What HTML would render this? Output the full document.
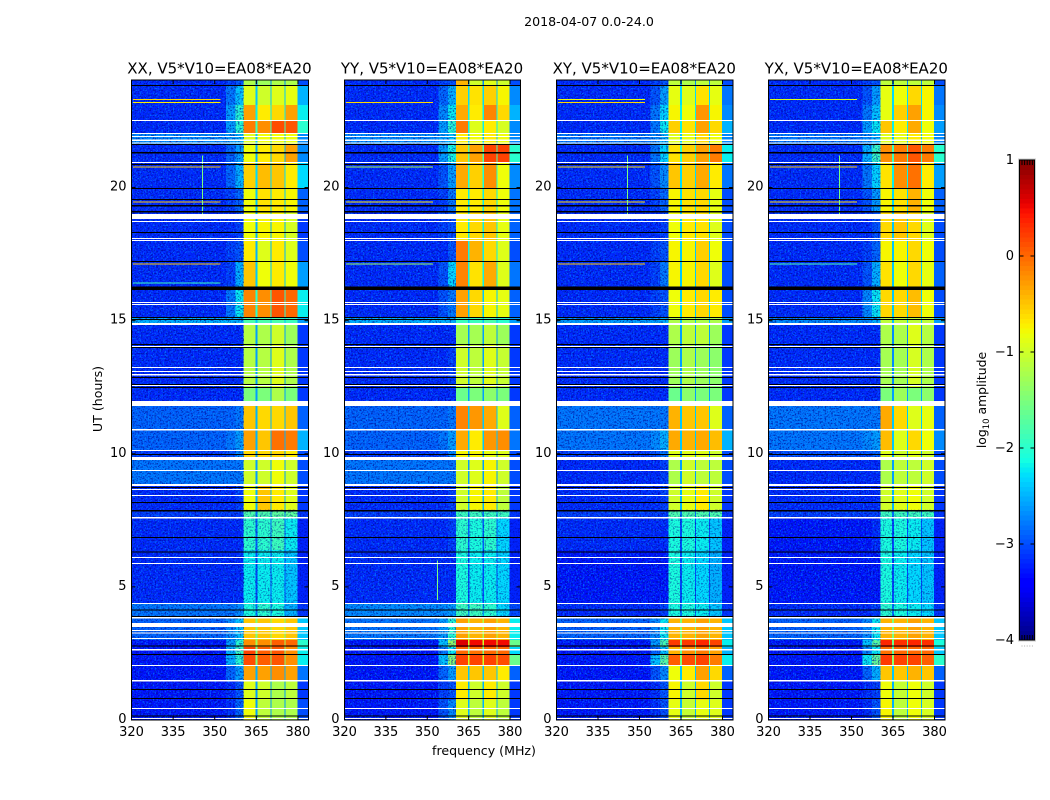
<!DOCTYPE html>
<html lang="en">
<head>
<meta charset="utf-8">
<title>2018-04-07 0.0-24.0</title>
<style>
html,body{margin:0;padding:0;background:#fff;}
svg{display:block;font-family:"DejaVu Sans","Liberation Sans",sans-serif;fill:#000;}
</style>
</head>
<body>
<svg id="figure" xmlns="http://www.w3.org/2000/svg" width="1050" height="800" viewBox="0 0 1050 800">
  <defs>
    <filter id="speckle-light" x="0" y="0" width="1" height="1" color-interpolation-filters="sRGB">
      <feTurbulence type="fractalNoise" baseFrequency="0.6" numOctaves="2" seed="4"/>
      <feColorMatrix type="matrix" values="0 0 0 0 0  0 0 0 0 0.65  0 0 0 0 1  5 0 0 0 -2.5"/>
    </filter>
    <filter id="speckle-dark" x="0" y="0" width="1" height="1" color-interpolation-filters="sRGB">
      <feTurbulence type="fractalNoise" baseFrequency="0.6" numOctaves="2" seed="11"/>
      <feColorMatrix type="matrix" values="0 0 0 0 0  0 0 0 0 0  0 0 0 0 0.55  5 0 0 0 -2.5"/>
    </filter>
  </defs>
  <rect x="0" y="0" width="1050" height="800" fill="#fff"/>
  <text x="589" y="26" font-size="12.6" text-anchor="middle">2018-04-07 0.0-24.0</text>
  <text transform="translate(102,399) rotate(-90)" font-size="12.6" text-anchor="middle">UT (hours)</text>
  <text x="484" y="755" font-size="12.6" text-anchor="middle">frequency (MHz)</text>
  <text transform="translate(986,400) rotate(-90)" font-size="12.4" text-anchor="middle">log<tspan font-size="8.5" dy="3">10</tspan><tspan dy="-3"> amplitude</tspan></text>
  <g id="panels"></g>
  <g id="colorbar"></g>
</svg>
<script>
const panelTitles = ["XX, V5*V10=EA08*EA20", "YY, V5*V10=EA08*EA20", "XY, V5*V10=EA08*EA20", "YX, V5*V10=EA08*EA20"];
const xTicks = [320, 335, 350, 365, 380];
const yTicks = [0, 5, 10, 15, 20];
const colorTicks = [1, 0, -1, -2, -3, -4];

const timeEdges = [0, 0.75, 1.5, 2.07, 2.44, 2.74, 3.0, 3.87, 4.39, 6.38, 7.62, 7.89, 8.86, 9.77, 10.14, 10.93, 11.79, 12.51, 14.08, 14.84, 15.14, 16.26, 17.2, 18.03, 19.08, 19.98, 20.96, 21.63, 22.05, 22.54, 23.1, 23.81, 24.04];
const freqEdges = [320, 354, 357.5, 360.4, 364.7, 365.4, 370.1, 370.5, 375.1, 375.5, 379.8, 383.8];
const columnLevelIndex = [0, 1, 2, 3, 8, 4, 8, 5, 8, 6, 7];

const xxLevels = [
[-3.3,-3.2,-2.9,-0.8,-1.1,-1.2,-1.2,-3.0,-2.6],
[-3.3,-3.2,-3.0,-0.9,-1.0,-1.2,-1.1,-3.1,-2.6],
[-3.3,-2.9,-2.6,-0.3,-0.3,-0.2,-0.3,-2.8,-2.5],
[-3.3,-2.5,-2.0,0.15,0.05,0.1,-0.2,-2.2,-1.5],
[-3.3,-2.5,-1.9,0.2,0.05,0.1,-0.2,-2.2,-1.5],
[-3.3,-2.6,-2.0,-0.2,-0.2,0.05,0.0,-2.0,-1.3],
[-2.9,-2.7,-2.4,-0.5,-0.5,-0.6,-0.5,-2.4,-1.5],
[-2.8,-2.8,-2.7,-2.1,-2.0,-2.1,-2.5,-3.1,-2.8],
[-3.2,-3.2,-3.2,-2.2,-2.2,-2.2,-2.4,-3.2,-3.0],
[-3.2,-3.2,-3.2,-2.0,-2.0,-1.9,-2.2,-3.2,-2.9],
[-3.1,-3.1,-3.1,-1.8,-1.8,-1.7,-1.7,-3.1,-2.8],
[-3.2,-3.2,-3.1,-0.8,-0.5,-0.7,-0.9,-3.1,-2.5],
[-2.8,-2.8,-2.8,-1.0,-1.0,-0.8,-1.0,-3.0,-2.6],
[-3.1,-3.0,-2.7,-0.6,-0.6,-0.6,-0.7,-3.0,-2.6],
[-2.9,-2.8,-2.6,-0.3,-0.5,-0.05,-0.1,-2.5,-2.5],
[-2.9,-2.9,-2.8,-0.5,-0.6,-0.6,-0.5,-2.9,-2.5],
[-3.2,-3.2,-3.2,-1.5,-1.5,-1.2,-1.5,-3.1,-2.6],
[-3.2,-3.2,-3.2,-1.15,-1.15,-0.9,-1.2,-3.1,-2.6],
[-3.2,-3.2,-3.2,-1.15,-1.2,-1.0,-1.3,-3.1,-2.6],
[-2.5,-2.5,-2.5,-1.8,-1.8,-1.8,-1.9,-2.6,-2.4],
[-3.2,-2.8,-2.2,-0.15,-0.2,0.1,0.0,-2.2,-2.0],
[-3.2,-3.1,-2.5,-0.5,-0.8,-0.7,-0.8,-2.6,-2.4],
[-3.2,-3.1,-3.0,-0.7,-0.9,-0.7,-0.9,-3.0,-2.5],
[-3.2,-3.2,-3.1,-0.8,-0.75,-0.75,-0.95,-3.1,-2.5],
[-3.2,-3.1,-2.9,-0.8,-0.65,-0.7,-0.75,-2.9,-2.4],
[-3.2,-2.9,-2.5,-0.55,-0.45,-0.5,-0.7,-2.3,-2.3],
[-3.2,-2.9,-2.6,-0.8,-0.7,-0.6,-0.3,-2.7,-2.5],
[-2.7,-2.6,-2.5,-0.9,-0.8,-0.8,-0.8,-2.7,-2.4],
[-3.2,-2.6,-2.0,-0.1,-0.2,0.15,0.1,-2.0,-1.9],
[-3.2,-2.6,-2.0,-0.3,-0.7,-0.6,-0.3,-2.2,-2.2],
[-3.2,-2.8,-2.4,-0.9,-1.0,-0.9,-0.85,-2.5,-2.4],
[-3.2,-3.1,-3.0,-1.2,-1.3,-1.2,-1.2,-3.0,-2.7]
];
const yyLevels = [
[-3.3,-3.0,-2.7,-0.9,-1.1,-0.9,-1.1,-3.1,-2.5],
[-3.3,-3.1,-3.0,-0.7,-1.0,-0.7,-1.0,-3.1,-2.5],
[-3.3,-2.9,-2.6,-0.5,-0.5,-0.5,-0.7,-2.9,-2.4],
[-3.3,-2.4,-1.4,0.2,0.2,0.2,0.15,-1.6,-1.0],
[-3.3,-2.8,-2.2,0.0,-0.05,0.0,0.0,-2.3,-1.5],
[-3.3,-2.4,-1.3,0.6,0.5,0.5,0.5,-1.6,-1.0],
[-2.8,-2.6,-2.0,-0.3,-0.4,-0.3,-0.4,-2.2,-1.2],
[-2.7,-2.7,-2.6,-1.9,-1.9,-2.0,-2.3,-3.0,-2.6],
[-3.2,-3.2,-3.2,-2.1,-2.2,-2.2,-2.3,-3.2,-3.0],
[-3.2,-3.2,-3.1,-2.0,-2.1,-2.0,-2.3,-3.2,-2.9],
[-3.1,-3.1,-3.1,-1.9,-1.9,-1.9,-1.9,-3.1,-2.8],
[-3.2,-3.2,-3.1,-1.0,-0.75,-0.7,-1.1,-3.1,-2.5],
[-2.8,-2.8,-2.8,-1.0,-0.9,-0.75,-1.0,-3.0,-2.6],
[-3.1,-3.0,-2.7,-0.75,-0.75,-0.85,-0.9,-3.0,-2.6],
[-2.9,-2.8,-2.6,-0.35,-0.7,-0.25,-0.2,-2.8,-2.4],
[-2.9,-2.9,-2.8,-0.15,-0.25,-0.35,-0.9,-2.9,-2.4],
[-3.2,-3.2,-3.2,-1.6,-1.5,-1.4,-1.5,-3.1,-2.6],
[-3.2,-3.2,-3.1,-1.0,-1.1,-0.9,-1.05,-3.1,-2.6],
[-3.2,-3.2,-3.2,-1.25,-1.25,-1.1,-1.3,-3.1,-2.6],
[-2.5,-2.5,-2.5,-1.9,-1.9,-1.8,-2.0,-2.6,-2.4],
[-3.2,-3.0,-2.8,-0.3,-0.6,-0.75,-0.85,-2.9,-2.4],
[-3.2,-3.0,-2.3,-0.15,-0.65,-0.35,-0.9,-2.8,-2.2],
[-3.2,-3.2,-3.0,-0.1,-0.4,-0.6,-0.9,-3.0,-2.2],
[-3.2,-3.1,-3.0,-0.7,-0.6,-0.5,-0.85,-2.9,-2.2],
[-3.2,-3.1,-2.8,-0.7,-0.7,-0.6,-0.8,-2.8,-2.2],
[-3.2,-3.0,-2.6,-0.35,-0.55,-0.2,-0.8,-2.7,-2.1],
[-3.2,-2.6,-2.1,-0.5,-0.3,0.2,0.2,-2.0,-1.8],
[-2.7,-2.6,-2.4,-0.7,-0.8,-0.7,-0.8,-2.7,-2.4],
[-3.2,-2.6,-2.0,-0.1,-0.9,-0.7,-0.95,-2.7,-2.2],
[-3.2,-2.7,-2.2,-0.35,-0.7,-0.15,-0.6,-2.5,-2.2],
[-3.2,-2.9,-2.5,-0.55,-0.65,-0.55,-0.75,-2.7,-2.3],
[-3.2,-3.1,-3.0,-0.4,-1.0,-0.9,-1.0,-3.0,-2.7]
];
const xyLevels = [
[-3.3,-3.2,-3.0,-0.85,-1.05,-0.85,-0.9,-3.1,-2.5],
[-3.3,-3.2,-3.0,-0.75,-1.0,-0.6,-1.0,-3.1,-2.5],
[-3.3,-3.0,-2.7,-0.8,-0.7,-0.3,-0.6,-2.9,-2.4],
[-3.3,-2.4,-1.7,0.05,0.15,0.2,-0.1,-2.2,-1.5],
[-3.3,-2.9,-2.4,-0.4,-0.2,-0.1,-0.3,-2.5,-1.7],
[-3.3,-2.6,-1.8,0.25,0.25,0.35,0.2,-2.2,-1.6],
[-2.9,-2.7,-2.2,-0.4,-0.4,-0.3,-0.4,-2.4,-1.5],
[-3.2,-3.2,-3.1,-2.1,-2.1,-2.2,-2.4,-3.1,-2.8],
[-3.3,-3.3,-3.3,-2.1,-2.2,-2.3,-2.5,-3.2,-3.0],
[-3.2,-3.2,-3.2,-2.1,-2.1,-2.2,-2.4,-3.2,-3.0],
[-3.1,-3.1,-3.1,-1.8,-1.8,-1.8,-1.8,-3.1,-2.8],
[-3.2,-3.2,-3.1,-1.0,-0.85,-0.7,-1.0,-3.1,-2.5],
[-3.2,-3.2,-3.1,-1.2,-1.0,-1.1,-1.1,-3.0,-2.6],
[-3.1,-3.0,-2.8,-0.9,-0.9,-0.9,-1.0,-3.0,-2.6],
[-2.8,-2.7,-2.5,-0.35,-0.4,-0.35,-0.45,-2.5,-2.4],
[-2.8,-2.8,-2.8,-0.4,-0.5,-0.5,-0.9,-2.9,-2.4],
[-3.2,-3.2,-3.2,-1.6,-1.4,-1.5,-1.5,-3.1,-2.6],
[-3.2,-3.2,-3.2,-1.3,-1.2,-1.3,-1.4,-3.1,-2.6],
[-3.2,-3.2,-3.2,-1.2,-1.1,-1.1,-1.3,-3.1,-2.6],
[-2.6,-2.6,-2.5,-1.2,-1.2,-1.2,-1.2,-2.6,-2.4],
[-3.2,-3.1,-3.0,-0.8,-0.7,-0.6,-0.7,-3.0,-2.4],
[-3.2,-3.1,-2.8,-0.75,-0.75,-0.6,-0.9,-3.0,-2.4],
[-3.2,-3.1,-3.0,-0.75,-0.75,-0.55,-0.8,-3.0,-2.4],
[-3.2,-3.2,-3.1,-0.8,-0.7,-0.65,-0.9,-3.0,-2.4],
[-3.2,-3.1,-2.9,-0.75,-0.65,-0.6,-0.85,-3.0,-2.3],
[-3.2,-3.0,-2.7,-0.5,-0.55,-0.35,-0.7,-2.8,-2.3],
[-3.2,-2.8,-2.3,-0.65,-0.55,-0.3,-0.1,-2.2,-2.0],
[-2.8,-2.7,-2.5,-0.9,-0.85,-0.6,-0.8,-2.7,-2.4],
[-3.2,-2.8,-2.2,-0.55,-0.65,-0.3,-0.6,-2.5,-2.2],
[-3.2,-2.8,-2.3,-0.75,-0.8,-0.25,-0.75,-2.7,-2.2],
[-3.2,-3.0,-2.6,-0.85,-0.9,-0.65,-0.85,-2.8,-2.3],
[-3.2,-3.1,-3.0,-1.1,-1.2,-1.1,-1.1,-3.0,-2.7]
];
const yxLevels = [
[-3.3,-3.2,-3.0,-0.75,-1.1,-0.8,-0.95,-3.1,-2.5],
[-3.3,-3.2,-3.1,-0.8,-1.05,-0.8,-1.0,-3.1,-2.5],
[-3.3,-2.9,-2.5,-0.5,-0.5,-0.4,-0.5,-2.9,-2.4],
[-3.3,-2.2,-1.6,0.25,0.2,0.2,0.05,-2.0,-1.4],
[-3.3,-2.7,-2.2,-0.05,0.0,0.0,0.0,-2.4,-1.7],
[-3.3,-2.4,-1.7,0.35,0.3,0.35,0.3,-2.1,-1.6],
[-2.9,-2.7,-2.2,-0.4,-0.4,-0.3,-0.4,-2.4,-1.5],
[-3.2,-3.2,-3.1,-2.0,-2.1,-2.2,-2.3,-3.1,-2.8],
[-3.3,-3.3,-3.3,-2.1,-2.2,-2.3,-2.4,-3.2,-3.0],
[-3.3,-3.3,-3.2,-2.1,-2.1,-2.2,-2.4,-3.2,-3.0],
[-3.1,-3.1,-3.1,-1.9,-1.9,-1.9,-1.9,-3.1,-2.8],
[-3.2,-3.2,-3.2,-1.0,-0.9,-0.8,-1.0,-3.1,-2.5],
[-3.2,-3.2,-3.2,-1.2,-1.1,-1.1,-1.0,-3.0,-2.6],
[-3.0,-3.0,-2.9,-0.9,-1.0,-0.9,-1.0,-3.0,-2.6],
[-2.8,-2.7,-2.6,-0.45,-0.9,-0.6,-0.8,-2.7,-2.4],
[-2.8,-2.8,-2.8,-0.35,-0.6,-0.9,-0.85,-2.9,-2.4],
[-3.2,-3.2,-3.2,-1.5,-1.3,-1.5,-1.4,-3.1,-2.6],
[-3.2,-3.2,-3.2,-1.25,-1.25,-0.95,-1.2,-3.1,-2.7],
[-3.2,-3.2,-3.2,-1.2,-1.2,-0.9,-1.15,-3.1,-2.7],
[-2.7,-2.7,-2.5,-1.1,-1.1,-1.1,-1.1,-2.6,-2.4],
[-3.2,-2.7,-2.2,-0.6,-0.6,-0.45,-0.8,-3.0,-2.4],
[-3.2,-3.0,-2.5,-0.65,-0.8,-0.6,-0.85,-2.9,-2.4],
[-3.2,-3.1,-2.9,-0.75,-0.75,-0.6,-0.8,-3.0,-2.4],
[-3.2,-3.2,-3.0,-0.6,-0.5,-0.6,-0.9,-3.0,-2.4],
[-3.2,-3.0,-2.6,-0.75,-0.65,-0.4,-0.8,-2.9,-2.3],
[-3.2,-2.8,-2.3,-0.65,-0.2,-0.05,-0.7,-2.6,-2.2],
[-3.2,-2.5,-1.9,-0.2,-0.1,0.1,-0.1,-2.0,-1.9],
[-2.8,-2.7,-2.5,-0.9,-0.85,-0.7,-0.8,-2.7,-2.4],
[-3.2,-2.6,-2.2,-0.5,-0.7,-0.35,-0.8,-2.6,-2.2],
[-3.2,-2.8,-2.4,-0.85,-0.55,-0.3,-0.75,-2.7,-2.3],
[-3.2,-3.0,-2.6,-0.85,-0.8,-0.6,-0.75,-2.8,-2.3],
[-3.2,-3.1,-3.0,-1.1,-1.1,-1.1,-1.1,-3.0,-2.7]
];

const whiteFlagStarts = [0.04, 0.413, 1.446, 2.028, 2.61, 3.042, 3.249, 3.343, 3.493, 3.606, 3.812, 4.357, 5.859, 6.085, 7.568, 8.413, 8.638, 8.789, 9.352, 9.765, 10.1, 10.873, 11.793, 12.545, 12.94, 13.07, 13.22, 14.01, 14.836, 15.587, 15.66, 17.99, 18.066, 18.704, 18.817, 20.92, 21.653, 21.746, 21.897, 22.009, 22.498];
const whiteFlagEnds = [0.075, 0.451, 1.502, 2.066, 2.667, 3.08, 3.287, 3.38, 3.606, 3.643, 3.869, 4.394, 5.897, 6.122, 7.624, 8.451, 8.676, 8.864, 9.39, 9.878, 10.14, 10.93, 11.98, 12.582, 12.995, 13.108, 13.258, 14.047, 14.91, 15.624, 15.7, 18.028, 18.103, 18.742, 19.005, 20.958, 21.69, 21.8, 21.934, 22.047, 22.535];
const blackFlagStarts = [0.131, 0.789, 1.127, 2.441, 2.76, 3.869, 4.113, 6.291, 6.836, 7.83, 8.15, 8.713, 9.953, 12.47, 12.582, 12.845, 13.972, 14.085, 15.02, 15.099, 16.15, 17.2, 18.29, 19.06, 19.286, 19.53, 19.944, 20.845, 21.277, 21.596, 23.81];
const blackFlagEnds = [0.169, 0.826, 1.164, 2.479, 2.798, 3.906, 4.15, 6.329, 6.873, 7.887, 8.188, 8.751, 9.99, 12.507, 12.62, 12.883, 14.01, 14.122, 15.06, 15.136, 16.28, 17.24, 18.329, 19.118, 19.343, 19.568, 19.98, 20.883, 21.333, 21.634, 23.85];

const rfiHours = [23.30, 23.19, 20.77, 19.455, 17.22, 17.13, 16.41];
const xxRfi = [-0.6, -0.7, -0.5, -0.5, -1.3, -0.5, -1.9];
const yyRfi = [null, -0.6, -1.2, -0.7, null, -1.3, null];
const xyRfi = [-0.8, -0.6, -0.6, -0.6, -0.6, -0.5, null];
const yxRfi = [-0.9, null, -0.5, -0.6, null, -1.8, null];

const spurFreqs = [345.6, 353.8, 345.6, 345.6];
const spurStarts = [19.0, 4.5, 19.0, 19.0];
const spurEnds = [21.2, 6.0, 21.2, 21.2];
const spurLevels = [-1.5, -1.5, -1.5, -1.5];

const SVG_NS = "http://www.w3.org/2000/svg";
const panelBoxes = [
  {left: 131.5, right: 308.5},
  {left: 344.5, right: 520.5},
  {left: 556.5, right: 733},
  {left: 768.5, right: 945}
];
const plotTop = 80, plotBottom = 720;
const freqMin = 320, freqMax = 383.8, hourMin = 0, hourMax = 24.04;
const panelLevels = [xxLevels, yyLevels, xyLevels, yxLevels];
const panelRfi = [xxRfi, yyRfi, xyRfi, yxRfi];
const panelKeys = ["xx", "yy", "xy", "yx"];

function xScale(box, f) { return box.left + (f - freqMin) / (freqMax - freqMin) * (box.right - box.left); }
function yScale(h) { return plotBottom - (h - hourMin) / (hourMax - hourMin) * (plotBottom - plotTop); }
function colorY(v) { return 640 - (v + 4) / 5 * 480; }

function lerp(stops, t) {
  for (let i = 1; i < stops.length; i++) {
    if (t <= stops[i][0]) {
      const a = stops[i - 1], b = stops[i];
      return a[1] + (b[1] - a[1]) * (t - a[0]) / (b[0] - a[0]);
    }
  }
  return stops[stops.length - 1][1];
}
function jet(v) {
  const t = Math.max(0, Math.min(1, (v + 4) / 5));
  const r = lerp([[0,0],[0.35,0],[0.66,1],[0.89,1],[1,0.5]], t);
  const g = lerp([[0,0],[0.125,0],[0.375,1],[0.64,1],[0.91,0],[1,0]], t);
  const b = lerp([[0,0.5],[0.11,1],[0.34,1],[0.65,0],[1,0]], t);
  return "rgb(" + Math.round(r * 255) + "," + Math.round(g * 255) + "," + Math.round(b * 255) + ")";
}
function make(tag, parent, props) {
  const el = document.createElementNS(SVG_NS, tag);
  for (const k in props) el.setAttribute(k, props[k]);
  parent.appendChild(el);
  return el;
}
function band(parent, x0, x1, y0, y1, fill) {
  return make("rect", parent, {x: x0, y: y0, width: Math.max(0.5, x1 - x0), height: Math.max(0.5, y1 - y0), fill: fill, "shape-rendering": "crispEdges"});
}
function speckle(parent, box, f0, f1, h0, h1, filterId, opacity) {
  const el = band(parent, xScale(box, f0), xScale(box, f1), yScale(h1), yScale(h0), "#000");
  el.setAttribute("filter", "url(#" + filterId + ")");
  el.setAttribute("opacity", opacity);
  return el;
}

const panelsRoot = document.getElementById("panels");
panelBoxes.forEach(function (box, p) {
  const key = panelKeys[p];
  const g = make("g", panelsRoot, {});
  
  

  const rows = panelLevels[p];
  rows.forEach(function (row, r) {
    for (let c = 0; c < columnLevelIndex.length; c++) {
      const value = row[columnLevelIndex[c]];
      const cell = band(g, xScale(box, freqEdges[c]), xScale(box, freqEdges[c + 1]), yScale(timeEdges[r + 1]), yScale(timeEdges[r]), jet(value));
      
      
    }
  });

  const lightNoise = speckle(g, box, freqMin, 360.4, hourMin, hourMax, "speckle-light", 0.5);
  
  
  const darkNoise = speckle(g, box, freqMin, 360.4, hourMin, hourMax, "speckle-dark", 0.6);
  
  
  const lowNoise = speckle(g, box, 360.4, freqMax, 3.87, 7.89, "speckle-dark", 0.45);
  
  

  rfiHours.forEach(function (h, i) {
    const value = panelRfi[p][i];
    if (value === null) return;
    const line = band(g, xScale(box, freqMin + 0.5), xScale(box, 352), yScale(h) - 0.5, yScale(h) + 0.5, jet(value));
    
    
  });

  const spur = band(g, xScale(box, spurFreqs[p]) - 0.5, xScale(box, spurFreqs[p]) + 0.5, yScale(spurEnds[p]), yScale(spurStarts[p]), jet(spurLevels[p]));
  
  

  whiteFlagStarts.forEach(function (h, i) {
    const flag = band(g, box.left, box.right, yScale(whiteFlagEnds[i]), yScale(h), "#fff");
    
    
  });
  blackFlagStarts.forEach(function (h, i) {
    const flag = band(g, box.left, box.right, yScale(blackFlagEnds[i]), yScale(h), "#000");
    
    
  });

  const frame = make("rect", g, {x: box.left, y: plotTop, width: box.right - box.left, height: plotBottom - plotTop, fill: "none", stroke: "#000", "stroke-width": 1});
  
  

  const title = make("text", g, {x: (box.left + box.right) / 2 - 0.5, y: 73.5, "font-size": 15, "text-anchor": "middle"});
  title.textContent = panelTitles[p];
  
  

  xTicks.forEach(function (f) {
    const x = xScale(box, f);
    const tickBottom = make("line", g, {x1: x, x2: x, y1: plotBottom, y2: plotBottom - 4, stroke: "#000"});
    
    
    const tickTop = make("line", g, {x1: x, x2: x, y1: plotTop, y2: plotTop + 4, stroke: "#000"});
    
    
    const label = make("text", g, {x: x, y: 736, "font-size": 13, "text-anchor": "middle"});
    label.textContent = String(f);
    
    
  });
  yTicks.forEach(function (h) {
    const y = yScale(h);
    const tickLeft = make("line", g, {x1: box.left, x2: box.left + 4, y1: y, y2: y, stroke: "#000"});
    
    
    const tickRight = make("line", g, {x1: box.right, x2: box.right - 4, y1: y, y2: y, stroke: "#000"});
    
    
    const label = make("text", g, {x: box.left - 5, y: y + 3, "font-size": 13, "text-anchor": "end"});
    label.textContent = String(h);
    
    
  });
});

const cbRoot = document.getElementById("colorbar");
const cbLeft = 1019.5, cbRight = 1034.5;
const cbEdge = make("rect", cbRoot, {x: cbLeft - 1, y: 159, width: cbRight - cbLeft + 2, height: 482, fill: "none", stroke: "#ccc", "stroke-width": 1});


const cbSteps = 100;
for (let i = 0; i < cbSteps; i++) {
  const lo = -4 + 5 * i / cbSteps;
  const hi = -4 + 5 * (i + 1) / cbSteps;
  const swatch = band(cbRoot, cbLeft, cbRight, colorY(hi), i === 0 ? colorY(lo) : colorY(lo) + 0.5, jet((lo + hi) / 2));
  
  
}
const cbFrame = make("rect", cbRoot, {x: cbLeft, y: 160, width: cbRight - cbLeft, height: 480, fill: "none", stroke: "#000", "stroke-width": 1});


for (let i = 0; i < 5; i++) {
  const x = cbLeft + 2.5 + i * 2.6;
  const minorTop = make("line", cbRoot, {x1: x, x2: x, y1: 160, y2: 165, stroke: "#000"});
  
  
  const minorBottom = make("line", cbRoot, {x1: x, x2: x, y1: 640, y2: 635, stroke: "#000"});
  
  
  const dot = make("line", cbRoot, {x1: x, x2: x, y1: 645.5, y2: 646.5, stroke: "#aaa"});
  
  
}
colorTicks.forEach(function (v) {
  const y = colorY(v);
  const tickLeft = make("line", cbRoot, {x1: cbLeft, x2: cbLeft + 4, y1: y, y2: y, stroke: "#000"});
  
  
  const tickRight = make("line", cbRoot, {x1: cbRight, x2: cbRight - 4, y1: y, y2: y, stroke: "#000"});
  
  
  const label = make("text", cbRoot, {x: 1014, y: y + 4, "font-size": 13, "text-anchor": "end"});
  label.textContent = v < 0 ? "\u2212" + Math.abs(v) : String(v);
  
  
});
</script>
</body>
</html>
